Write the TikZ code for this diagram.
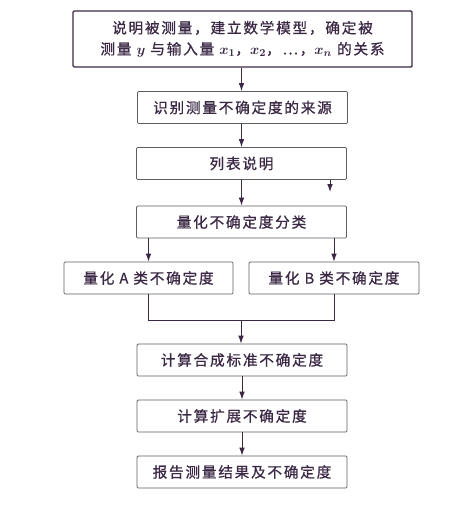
\documentclass[tikz,border=0pt]{standalone}
\usepackage{fontspec}
\newfontfamily\cjk[LetterSpace=12,FakeBold=0.8]{Noto Sans CJK SC}
\usetikzlibrary{arrows.meta}
\definecolor{inkc}{RGB}{58,40,68}
\definecolor{edgec}{RGB}{95,90,100}
\tikzset{
  stepbox/.style={draw=edgec, line width=0.7pt, rounded corners=1pt, minimum width=6.3cm, minimum height=0.96cm,
    text=inkc, font=\cjk\fontsize{12.5}{18}\selectfont, inner sep=0pt},
  arr/.style={-{Latex[length=2.4mm,width=1.7mm]}, draw=inkc, line width=0.8pt},
}
\begin{document}
\begin{tikzpicture}[x=0.03cm,y=-0.03cm]
        \useasboundingbox (0,0) rectangle (474,508);
        \node[stepbox, minimum width=10.17cm, minimum height=1.68cm, line width=1.1pt, draw=inkc, align=center,
            font=\cjk\fontsize{12.5}{18}\selectfont\boldmath] (model) at (242.5,39)
            {说明被测量，建立数学模型，确定被\\测量 $y$ 与输入量 $x_1$，$x_2$，…，$x_n$ 的关系};
        \node[stepbox] (source) at (242.5,107.5) {识别测量不确定度的来源};
        \node[stepbox] (table) at (241.5,163.5) {列表说明};
        \node[stepbox] (classify) at (241.5,222) {量化不确定度分类};
        \node[stepbox, minimum width=5.07cm] (typeA) at (148.5,278) {量化 A 类不确定度};
        \node[stepbox, minimum width=5.1cm] (typeB) at (334,278) {量化 B 类不确定度};
        \node[stepbox] (combined) at (242,360) {计算合成标准不确定度};
        \node[stepbox] (expanded) at (242,416) {计算扩展不确定度};
        \node[stepbox] (report) at (242,472) {报告测量结果及不确定度};
        \coordinate (stray) at (330,192);
        \coordinate (merge) at (241,320);

        \draw[arr] (model.south -| table.center) -- (source.north -| table.center);
        \draw[arr] (source.south -| table.center) -- (table.north);
        \draw[arr] (stray |- table.south) -- (stray);
        \draw[arr] (table.south) -- (classify.north);
        \draw[arr] (typeA.north |- classify.south) -- (typeA.north);
        \draw[arr] (typeB.north |- classify.south) -- (typeB.north);
        \draw[inkc, line width=0.8pt] (typeA.south) -- (typeA.south |- merge) -- (typeB.south |- merge) -- (typeB.south);
        \draw[arr] (merge) -- (combined.north -| merge);
        \draw[arr] (combined.south) -- (expanded.north);
        \draw[arr] (expanded.south) -- (report.north);
\end{tikzpicture}
\end{document}
